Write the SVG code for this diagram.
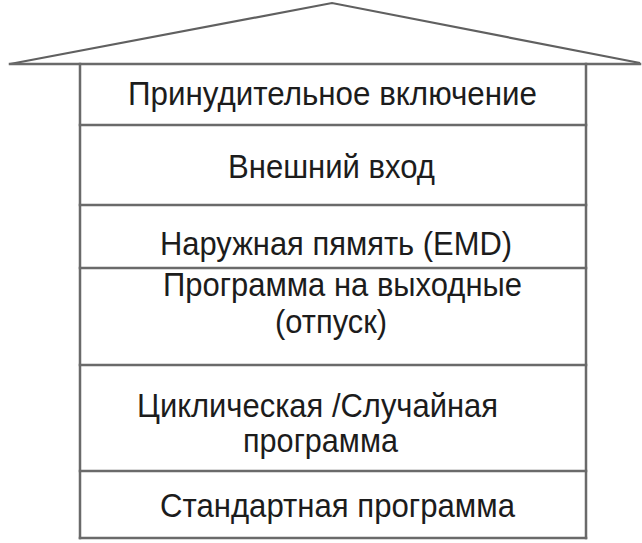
<svg xmlns="http://www.w3.org/2000/svg" width="642" height="543" viewBox="0 0 642 543">
<style>
.ln{stroke:#6a6a6a;stroke-width:2.5;fill:none;stroke-linecap:square}
.roof{stroke:#606060;stroke-width:2.2;fill:none;stroke-linejoin:miter}
.t{font-family:"Liberation Sans",Arial,sans-serif;font-size:34px;fill:#1c1c1c}
</style>
<rect width="642" height="543" fill="#ffffff"/>
<g id="roof">
<polyline class="roof" points="10,64 332,3 640,63"/>
<line class="ln" x1="10" y1="64" x2="640" y2="64" stroke-width="2"/>
</g>
<g id="frame">
<line class="ln" x1="80" y1="64" x2="80" y2="538"/>
<line class="ln" x1="586" y1="64" x2="586" y2="538"/>
<line class="ln" x1="80" y1="538" x2="586" y2="538"/>
<line class="ln" x1="80" y1="125" x2="586" y2="125"/>
<line class="ln" x1="80" y1="205" x2="586" y2="205"/>
<line class="ln" x1="80" y1="268" x2="586" y2="268"/>
<line class="ln" x1="80" y1="365" x2="586" y2="365"/>
<line class="ln" x1="80" y1="471" x2="586" y2="471"/>
</g>
<g id="connectors"></g>
<g id="layer1"><text class="t" x="128" y="105" textLength="409" lengthAdjust="spacingAndGlyphs">Принудительное включение</text></g>
<g id="layer2"><text class="t" x="228" y="178" textLength="207" lengthAdjust="spacingAndGlyphs">Внешний вход</text></g>
<g id="layer3"><text class="t" x="160" y="255" textLength="352" lengthAdjust="spacingAndGlyphs">Наружная пямять (EMD)</text></g>
<g id="layer4"><text class="t" x="163" y="296" textLength="359" lengthAdjust="spacingAndGlyphs">Программа на выходные</text><text class="t" x="275" y="333" textLength="112" lengthAdjust="spacingAndGlyphs">(отпуск)</text></g>
<g id="layer5"><text class="t" x="137" y="417" textLength="361" lengthAdjust="spacingAndGlyphs">Циклическая /Случайная</text><text class="t" x="243" y="452" textLength="155" lengthAdjust="spacingAndGlyphs">программа</text></g>
<g id="layer6"><text class="t" x="160" y="517" textLength="355" lengthAdjust="spacingAndGlyphs">Стандартная программа</text></g>
</svg>
